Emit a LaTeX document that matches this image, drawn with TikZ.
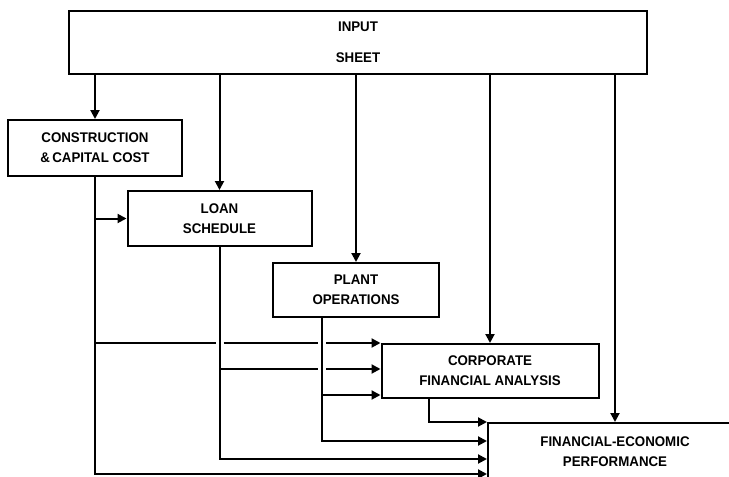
\documentclass[tikz,border=0pt]{standalone}
\usepackage{fontspec}
\setmainfont{Liberation Sans}[FakeStretch=0.95]
\usetikzlibrary{arrows.meta}
\begin{document}
\begin{tikzpicture}[x=1pt,y=-1pt,
  box/.style={draw, line width=2pt, align=center, inner sep=0pt,
    font=\bfseries\fontsize{14}{20}\selectfont},
  wire/.style={line width=2pt},
  arr/.style={wire,-{Triangle[length=9pt,width=9pt]}}]
\useasboundingbox (0,0) rectangle (729,477);
\clip (0,0) rectangle (729,477);
\node[box, minimum width=578pt, minimum height=63pt] (input) at (358,42.5) {INPUT\\[11pt]SHEET};
\node[box, minimum width=174pt, minimum height=56pt] (cons) at (95,148) {CONSTRUCTION\\\&\,CAPITAL COST};
\node[box, minimum width=184pt, minimum height=55pt] (loan) at (219.5,218.5) {LOAN\\SCHEDULE};
\node[box, minimum width=166pt, minimum height=54pt] (plant) at (356,290) {PLANT\\OPERATIONS};
\node[box, minimum width=217pt, minimum height=54pt] (corp) at (490,371) {CORPORATE\\FINANCIAL ANALYSIS};
\node[box, minimum width=254pt, minimum height=57pt] (fe) at (615,451.5) {FINANCIAL-ECONOMIC\\PERFORMANCE};
% outputs of the input sheet
\draw[arr] (input.south -| cons.north) -- (cons.north);
\draw[arr] (input.south -| loan.north) -- (loan.north);
\draw[arr] (input.south -| plant.north) -- (plant.north);
\draw[arr] (input.south -| corp.north) -- (corp.north);
\draw[arr] (input.south -| fe.north) -- (fe.north);
% construction
\draw[arr] (cons.south) -- (cons.south |- loan.west) -- (loan.west);
\coordinate (fe1) at (fe.north west |- 0,441);
\coordinate (fe2) at (fe.north west |- 0,459);
\coordinate (fe3) at (fe.north west |- 0,474);
\draw[arr] (cons.south) -- (cons.south |- fe3) -- (fe3);
% loan
\draw[arr] (loan.south) -- (loan.south |- fe2) -- (fe2);
% plant
\coordinate (pout) at ([xshift=50pt]plant.south west);
\draw[arr] (pout) -- (pout |- fe1) -- (fe1);
% corporate
\coordinate (cout) at ([xshift=48pt]corp.south west);
\draw[arr] (cout) -- (cout |- fe.north) -- (fe.north west);
% inputs to corporate
\coordinate (ci1) at (corp.north west |- 0,343);
\coordinate (ci2) at (corp.west |- 0,369);
\coordinate (ci3) at (corp.south west |- 0,395);
\draw[wire] (cons.south |- ci1) -- ([xshift=-4pt]loan.south |- ci1);
\draw[wire] ([xshift=4pt]loan.south |- ci1) -- ([xshift=-4pt]pout |- ci1);
\draw[arr] ([xshift=4pt]pout |- ci1) -- (ci1);
\draw[wire] (loan.south |- ci2) -- ([xshift=-4pt]pout |- ci2);
\draw[arr] ([xshift=4pt]pout |- ci2) -- (ci2);
\draw[arr] (pout |- ci3) -- (ci3);
\end{tikzpicture}
\end{document}
